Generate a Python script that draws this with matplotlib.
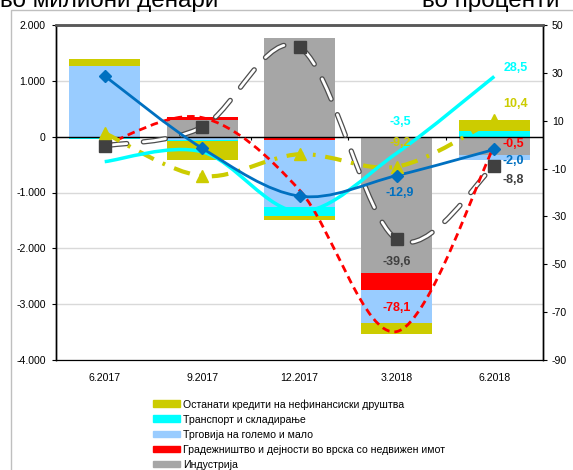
import numpy as np
import matplotlib
matplotlib.use("Agg")
from matplotlib import pyplot as plt
from matplotlib.path import Path
from matplotlib.patches import PathPatch, Patch, Rectangle
from matplotlib.ticker import FuncFormatter

plt.rcParams['font.family'] = ['Liberation Sans Narrow', 'Liberation Sans', 'DejaVu Sans']
plt.rcParams['axes.unicode_minus'] = False
plt.rcParams['lines.scale_dashes'] = False

# categories (quarters)
cats = ['6.2017', '9.2017', '12.2017', '3.2018', '6.2018']

# stacked bars, change in millions of denars (left axis)
industry = [0, 300, 1766, -2438, -322]
construction = [0, 45, -55, -311, 0]
trade = [1258, -60, -1205, -596, -90]
transport = [-50, -20, -161, 0, 95]
other = [132, -330, -77, -197, 209]

# growth rates in percent (right axis)
g_industry = [-0.5, 7.3, 40.7, -39.6, -8.8]
g_construction = [-0.1, 11.3, -19.0, -78.1, -0.5]
g_trade = [28.7, -1.5, -21.5, -12.9, -2.0]
g_transport = [-7.1, -3.0, -28.0, -3.5, 28.5]
g_other = [4.8, -13.1, -4.0, -9.2, 10.4]

names = ['Останати кредити на нефинансиски друштва', 'Транспорт и складирање',
         'Трговија на големо и мало', 'Градежништво и дејности во врска со недвижен имот',
         'Индустрија']

c_other = '#cccc00'
c_transport = '#00ffff'
c_trade = '#99ccff'
c_constr = '#ff0000'
c_ind = '#a6a6a6'
c_blue = '#0070c0'
c_dark = '#404040'


def smooth_path(x, y):
    # excel-like smoothed line (bezier through the data points)
    pts = np.column_stack([x, y]).astype(float)
    n = len(pts)
    verts = [pts[0]]
    codes = [Path.MOVETO]
    for i in range(n - 1):
        p0 = pts[max(i - 1, 0)]
        p1 = pts[i]
        p2 = pts[i + 1]
        p3 = pts[min(i + 2, n - 1)]
        verts += [p1 + (p2 - p0) / 6, p2 - (p3 - p1) / 6, p2]
        codes += [Path.CURVE4] * 3
    return Path(verts, codes)


fig = plt.figure(figsize=(5.73, 4.70), dpi=100)
ax = fig.add_axes([56 / 573, 1 - 360 / 470, 487 / 573, 335 / 470])
ax2 = ax.twinx()

# outer chart frame
fig.patches.append(Rectangle((11 / 573, -0.1), 1.0, 1 - 10 / 470 + 0.1, transform=fig.transFigure,
                             fill=False, edgecolor='#bfbfbf', lw=1, zorder=0))

x = np.arange(len(cats))
w = 0.73
series = [(industry, c_ind), (construction, c_constr), (trade, c_trade),
          (transport, c_transport), (other, c_other)]
pos_base = np.zeros(len(cats))
neg_base = np.zeros(len(cats))
for vals, col in series:
    v = np.array(vals, dtype=float)
    base = np.where(v >= 0, pos_base, neg_base)
    ax.bar(x, v, w, bottom=base, color=col, zorder=2, linewidth=0)
    pos_base = pos_base + np.where(v > 0, v, 0)
    neg_base = neg_base + np.where(v < 0, v, 0)

ax.set_xlim(-0.5, len(cats) - 0.5)
ax.set_ylim(-4000, 2000)
ax.set_yticks(np.arange(-4000, 2001, 1000))
ax.yaxis.set_major_formatter(FuncFormatter(lambda v, p: f'{v:,.0f}'.replace(',', '.')))
ax.yaxis.grid(True, color='#d9d9d9', lw=1, zorder=0)
ax.set_axisbelow(True)
ax.axhline(0, color='black', lw=1, zorder=3)
ax.vlines(x[1:] - 0.5, -60, 0, color='black', lw=0.8, zorder=3)
ax.set_xticks(x)
ax.set_xticklabels(cats)
ax.tick_params(axis='x', length=0, pad=9.5, labelsize=7.6)
ax.tick_params(axis='y', length=3, width=0.8, pad=4.5, labelsize=7.6)

ax2.set_ylim(-90, 50)
ax2.set_yticks(np.arange(-90, 51, 20))
ax2.tick_params(axis='y', length=3, width=0.8, pad=3.5, labelsize=7.6)

for a in (ax, ax2):
    a.spines['top'].set_color('#595959')
    a.spines['top'].set_linewidth(1.8)
    a.spines['left'].set_color('black')
    a.spines['right'].set_color('black')
    a.spines['bottom'].set_color('black')
    a.spines['left'].set_linewidth(1)
    a.spines['right'].set_linewidth(1)

# growth lines
gray_dash = (0, (16, 12))
ax2.add_patch(PathPatch(smooth_path(x, g_industry), fill=False, edgecolor='#4d4d4d', lw=3.8,
                        linestyle=gray_dash, capstyle='round', zorder=4))
ax2.add_patch(PathPatch(smooth_path(x, g_industry), fill=False, edgecolor='white', lw=2.0,
                        linestyle=gray_dash, capstyle='round', zorder=4.1))
ax2.add_patch(PathPatch(smooth_path(x, g_construction), fill=False, edgecolor=c_constr, lw=2,
                        linestyle=(0, (5.5, 3.5)), zorder=5))
ax2.add_patch(PathPatch(smooth_path(x, g_other), fill=False, edgecolor=c_other, lw=3,
                        linestyle=(0, (12, 7, 2, 7)), zorder=5))
ax2.add_patch(PathPatch(smooth_path(x, g_transport), fill=False, edgecolor=c_transport, lw=2.5, zorder=5))
ax2.add_patch(PathPatch(smooth_path(x, g_trade), fill=False, edgecolor=c_blue, lw=2, zorder=6))

ax2.plot(x, g_industry, 's', color=c_dark, ms=8, zorder=7)
ax2.plot(x, g_other, '^', color=c_other, ms=8, zorder=7)
ax2.plot(x, g_trade, 'D', color=c_blue, ms=6, zorder=7)

# data labels for last two periods
lab = dict(fontsize=9, fontweight='bold', family=['Liberation Sans', 'DejaVu Sans'],
           ha='center', va='center', textcoords='offset pixels', zorder=8)
last = len(cats) - 1
ax2.annotate(f'{g_transport[last]:.1f}'.replace('.', ','), (x[last], g_transport[last]), (21, 8), color=c_transport, **lab)
ax2.annotate(f'{g_other[last]:.1f}'.replace('.', ','), (x[last], g_other[last]), (21, 16), color=c_other, **lab)
ax2.annotate(f'{g_construction[last]:.1f}'.replace('.', ','), (x[last], g_construction[last]), (19, 2), color=c_constr, **lab)
ax2.annotate(f'{g_trade[last]:.1f}'.replace('.', ','), (x[last], g_trade[last]), (19, -12), color=c_blue, **lab)
ax2.annotate(f'{g_industry[last]:.1f}'.replace('.', ','), (x[last], g_industry[last]), (19, -14), color=c_dark, **lab)
k = 3
ax2.annotate(f'{g_transport[k]:.1f}'.replace('.', ','), (x[k], g_transport[k]), (3, 31), color=c_transport, **lab)
ax2.annotate(f'{g_other[k]:.1f}'.replace('.', ','), (x[k], g_other[k]), (3, 24), color=c_other, **lab)
ax2.annotate(f'{g_trade[k]:.1f}'.replace('.', ','), (x[k], g_trade[k]), (3, -17), color=c_blue, **lab)
ax2.annotate(f'{g_industry[k]:.1f}'.replace('.', ','), (x[k], g_industry[k]), (0, -23), color=c_dark, **lab)
ax2.annotate(f'{g_construction[k]:.1f}'.replace('.', ','), (x[k], g_construction[k]), (0, 24), color=c_constr, **lab)

# unit captions (cut at the top like in the source)
fig.text(0.0, 1 - 7 / 470, 'во милиони денари', fontsize=17.5, family=['Liberation Sans', 'DejaVu Sans'],
         ha='left', va='baseline')
fig.text(559 / 573, 1 - 7 / 470, 'во проценти', fontsize=17.5, family=['Liberation Sans', 'DejaVu Sans'],
         ha='right', va='baseline')

handles = [Patch(color=c) for c in [c_other, c_transport, c_trade, c_constr, c_ind]]
fig.legend(handles, names, loc='upper left', bbox_to_anchor=(153 / 573, 1 - 399 / 470),
           frameon=False, fontsize=7.6, handlelength=2.6, handleheight=0.6,
           handletextpad=0.25, labelspacing=0.48, borderpad=0, borderaxespad=0)

fig.savefig('out.png', dpi=100)
